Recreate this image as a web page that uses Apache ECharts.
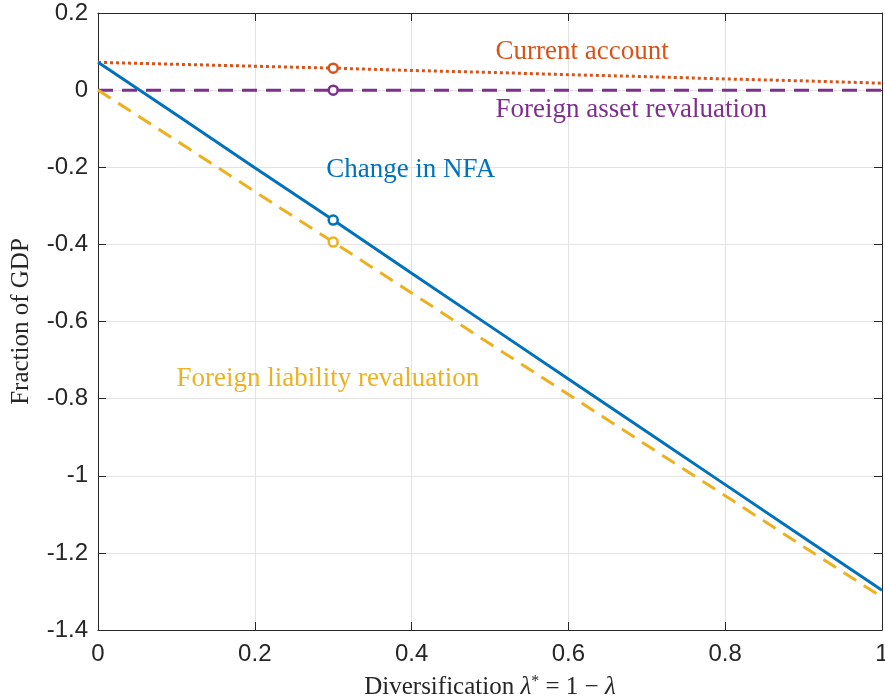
<!DOCTYPE html>
<html><head><meta charset="utf-8">
<script src="https://cdn.jsdelivr.net/npm/echarts@6/dist/echarts.min.js"></script>
<style>html,body{margin:0;padding:0;background:#fff}#c{width:885px;height:700px}</style>
</head><body><div id="c"></div>
<script>
const xs = [0, 0.1, 0.2, 0.3, 0.4, 0.5, 0.6, 0.7, 0.8, 0.9, 1.0];
const currentAccount = [0.072, 0.067, 0.062, 0.057, 0.051, 0.046, 0.040, 0.035, 0.029, 0.024, 0.018];
const assetReval = [0, 0, 0, 0, 0, 0, 0, 0, 0, 0, 0];
const liabilityReval = [0, -0.131, -0.263, -0.394, -0.526, -0.658, -0.789, -0.921, -1.052, -1.184, -1.315];
const changeNFA = [0.072, -0.064, -0.201, -0.337, -0.475, -0.612, -0.749, -0.886, -1.023, -1.160, -1.297];
const markerX = 0.3;
const markers = [
  {name: 'Current account', y: 0.057},
  {name: 'Foreign asset revaluation', y: 0},
  {name: 'Change in NFA', y: -0.337},
  {name: 'Foreign liability revaluation', y: -0.394}
];
const labels = [
  {text: 'Current account', x: 0.507, y: 0.1},
  {text: 'Foreign asset revaluation', x: 0.507, y: -0.05},
  {text: 'Change in NFA', x: 0.291, y: -0.207},
  {text: 'Foreign liability revaluation', x: 0.1, y: -0.75}
];
const colors = {
  'Current account': '#D95319',
  'Foreign asset revaluation': '#7E2F8E',
  'Change in NFA': '#0072BD',
  'Foreign liability revaluation': '#EDB120'
};

const pair = arr => xs.map((x, i) => [x, arr[i]]);
const axisColor = '#262626';
const serif = '"Liberation Serif", "DejaVu Serif", serif';
const sans = '"Liberation Sans", Arial, sans-serif';

function lineSeries(name, arr, type, width) {
  return {
    name, type: 'line', data: pair(arr), showSymbol: false, smooth: false,
    lineStyle: {color: colors[name], width: width, type: type, opacity: 1},
    z: 3, silent: true
  };
}

const chart = echarts.init(document.getElementById('c'));
const commonX = {
  type: 'value', min: 0, max: 1, interval: 0.2,
  axisLine: {show: true, onZero: false, lineStyle: {color: axisColor, width: 1}},
  axisTick: {show: true, inside: true, length: 8, lineStyle: {color: axisColor}},
  splitLine: {show: false}
};
const commonY = {
  type: 'value', min: -1.4, max: 0.2, interval: 0.2,
  axisLine: {show: true, onZero: false, lineStyle: {color: axisColor, width: 1}},
  axisTick: {show: true, inside: true, length: 8, lineStyle: {color: axisColor}},
  splitLine: {show: false}
};
chart.setOption({
  animation: false,
  grid: {left: 98, right: 3, top: 13, bottom: 70, containLabel: false, outerBoundsMode: 'none'},
  xAxis: [
    Object.assign({}, commonX, {
      position: 'bottom',
      splitLine: {show: true, lineStyle: {color: '#e3e3e3', width: 1}},
      axisLabel: {color: axisColor, fontFamily: sans, fontSize: 24, margin: 12,
        formatter: v => String(Math.round(v * 10) / 10)},
      name: 'Diversification {i|λ}{s|*} = 1 − {i|λ}',
      nameLocation: 'middle', nameGap: 44,
      nameTextStyle: {color: axisColor, fontFamily: serif, fontSize: 25,
        rich: {
          i: {fontFamily: serif, fontStyle: 'italic', fontSize: 25, color: axisColor},
          s: {fontFamily: serif, fontSize: 16, color: axisColor, verticalAlign: 'top', padding: [0, 0, 10, 0]}
        }}
    }),
    Object.assign({}, commonX, {position: 'top', axisLabel: {show: false}})
  ],
  yAxis: [
    Object.assign({}, commonY, {
      position: 'left',
      splitLine: {show: true, lineStyle: {color: '#e3e3e3', width: 1}},
      axisLabel: {color: axisColor, fontFamily: sans, fontSize: 24, margin: 10,
        formatter: v => String(Math.round(v * 10) / 10)},
      name: 'Fraction of GDP', nameLocation: 'middle', nameGap: 64, nameRotate: 90,
      nameTextStyle: {color: axisColor, fontFamily: serif, fontSize: 25}
    }),
    Object.assign({}, commonY, {position: 'right', axisLabel: {show: false}})
  ],
  series: [
    lineSeries('Current account', currentAccount, [3, 3], 3),
    lineSeries('Foreign asset revaluation', assetReval, [15, 9], 3),
    lineSeries('Foreign liability revaluation', liabilityReval, [15, 9], 3),
    lineSeries('Change in NFA', changeNFA, 'solid', 3),
    {
      type: 'scatter', silent: true, z: 5,
      itemStyle: {opacity: 1},
      data: markers.map(m => ({value: [markerX, m.y],
        itemStyle: {color: '#fff', borderColor: colors[m.name], borderWidth: 2.5, opacity: 1}})),
      symbol: 'circle', symbolSize: 9
    },
    {
      type: 'scatter', silent: true, z: 6, symbolSize: 0,
      itemStyle: {opacity: 1},
      data: labels.map(l => ({value: [l.x, l.y],
        label: {show: true, formatter: l.text, position: 'right', distance: 0, opacity: 1,
          color: colors[l.text], fontFamily: serif, fontSize: 27}}))
    }
  ]
});
</script></body></html>
